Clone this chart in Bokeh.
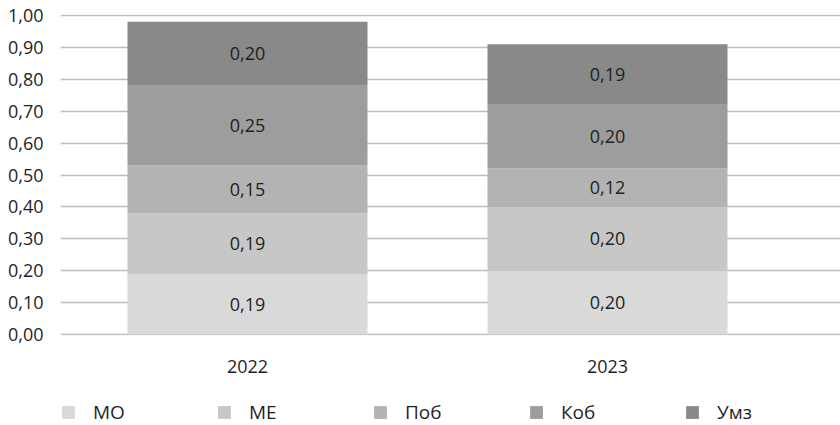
from bokeh.plotting import figure
from bokeh.layouts import column
from bokeh.models import (ColumnDataSource, Range1d, FixedTicker, CustomJSTickFormatter,
                          Legend, LegendItem)
from bokeh.core.properties import value
from bokeh.embed import file_html
from bokeh.resources import INLINE

# Data
years = ["2022", "2023"]
series = ["МО", "МЕ", "Поб", "Коб", "Умз"]
mo = [0.19, 0.20]
me = [0.19, 0.20]
pob = [0.15, 0.12]
kob = [0.25, 0.20]
umz = [0.20, 0.19]
y_ticks = [0.0, 0.1, 0.2, 0.3, 0.4, 0.5, 0.6, 0.7, 0.8, 0.9, 1.0]

colors = ["#d9d9d9", "#c7c7c7", "#b3b3b3", "#9d9d9d", "#898989"]
FONT = "Open Sans"
TEXT_COLOR = "#1f1f1f"
GRID_COLOR = "#bdbdbd"

x_pos = list(range(len(years)))
keys = ["mo", "me", "pob", "kob", "umz"]
source = ColumnDataSource(dict(x=x_pos, mo=mo, me=me, pob=pob, kob=kob, umz=umz))

# Main stacked-bar chart
p = figure(width=840, height=395, output_backend="svg", toolbar_location=None,
           x_range=Range1d(-0.5194, 1.6472), y_range=Range1d(-0.003, 1.003),
           min_border_left=60, min_border_right=0, min_border_top=14,
           min_border_bottom=60)
p.outline_line_color = None

p.vbar_stack(keys, x="x", width=0.6667, source=source,
             color=colors, line_color=None)

# Value labels centred in each segment
lx, ly, lt = [], [], []
for i in x_pos:
    base = 0.0
    for vals in (mo, me, pob, kob, umz):
        v = vals[i]
        lx.append(i)
        ly.append(base + v / 2)
        lt.append(f"{v:.2f}".replace(".", ","))
        base += v
p.text(x=lx, y=ly, text=lt, text_align="center", text_baseline="middle",
       text_font=value(FONT), text_font_size="18px", text_color=TEXT_COLOR)

# Axes
p.yaxis.ticker = FixedTicker(ticks=y_ticks)
p.yaxis.formatter = CustomJSTickFormatter(code="return tick.toFixed(2).replace('.', ',');")
p.yaxis.axis_line_color = None
p.yaxis.major_tick_line_color = None
p.yaxis.minor_tick_line_color = None
p.yaxis.major_tick_out = 0
p.yaxis.major_tick_in = 0
p.yaxis.major_label_standoff = 17
p.yaxis.major_label_text_font = FONT
p.yaxis.major_label_text_font_size = "18px"
p.yaxis.major_label_text_color = TEXT_COLOR

p.xaxis.ticker = FixedTicker(ticks=x_pos)
p.xaxis.major_label_overrides = {i: y for i, y in zip(x_pos, years)}
p.xaxis.axis_line_color = None
p.xaxis.major_tick_line_color = None
p.xaxis.minor_tick_line_color = None
p.xaxis.major_tick_out = 0
p.xaxis.major_tick_in = 0
p.xaxis.major_label_standoff = 24
p.xaxis.major_label_text_font = FONT
p.xaxis.major_label_text_font_size = "18px"
p.xaxis.major_label_text_color = TEXT_COLOR

p.xgrid.grid_line_color = None
p.ygrid.grid_line_color = GRID_COLOR
p.ygrid.grid_line_width = 1.5

# Legend strip underneath the chart; its swatches come from hidden copies of the stacks
lg = figure(width=840, height=30, output_backend="svg", toolbar_location=None,
            x_axis_type=None, y_axis_type=None,
            x_range=Range1d(-0.5194, 1.6472), y_range=Range1d(0, 1),
            min_border_left=60, min_border_right=0, min_border_top=4,
            min_border_bottom=0)
lg.outline_line_color = None
lg.xgrid.grid_line_color = None
lg.ygrid.grid_line_color = None
swatches = lg.vbar_stack(keys, x="x", width=0.6667, source=source,
                         color=colors, line_color=None)
for r in swatches:
    r.visible = False

legend = Legend(items=[LegendItem(label=s, renderers=[r]) for s, r in zip(series, swatches)],
                orientation="horizontal", location="left",
                glyph_width=16, glyph_height=16, label_standoff=17,
                label_width=113, label_height=16, spacing=10,
                padding=0, margin=0, border_line_color=None,
                background_fill_alpha=0, inactive_fill_alpha=0,
                label_text_font=FONT, label_text_font_size="19px",
                label_text_color=TEXT_COLOR)
lg.add_layout(legend)

layout = column(p, lg, spacing=0)
open("out.html", "w").write(file_html(layout, INLINE))
